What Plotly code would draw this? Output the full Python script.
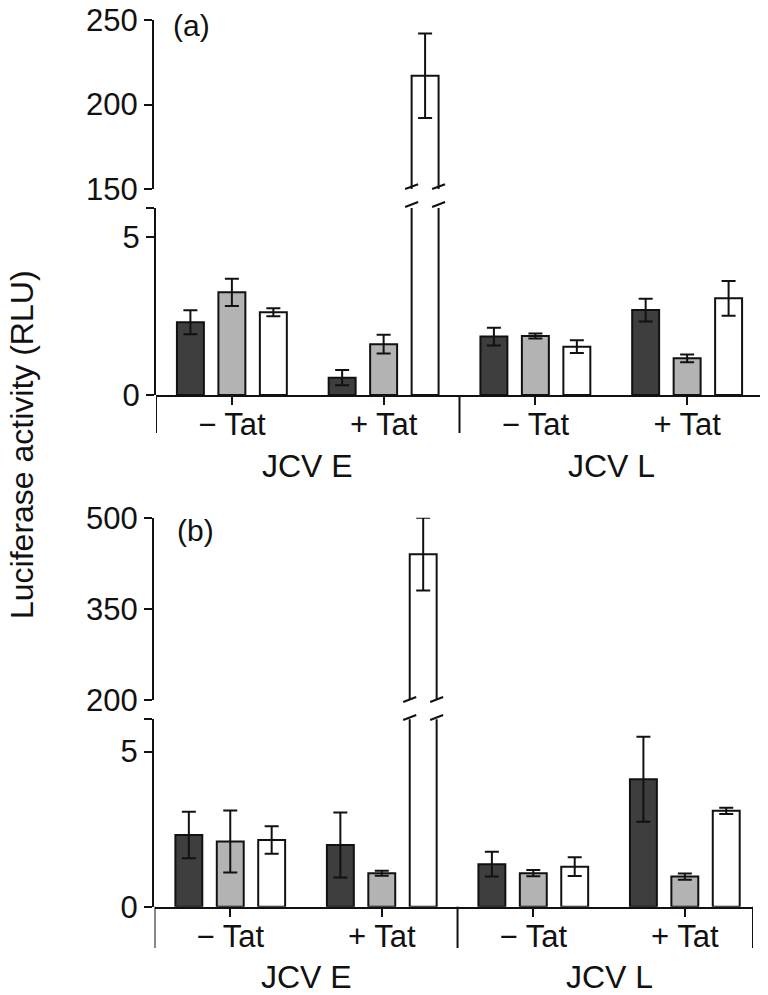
import plotly.graph_objects as go

# ---------------- data ----------------
x_pos = [0, 1, 2, 3]
tick_labels = ["\u2212 Tat", "+ Tat", "\u2212 Tat", "+ Tat"]
promoters = ["JCV E", "JCV L"]
series_names = ["Series 1", "Series 2", "Series 3"]
series_colors = ["#3e3e3e", "#b3b3b3", "#ffffff"]

# panel (a)
a_s1 = [2.30, 0.55, 1.85, 2.69]
a_s2 = [3.25, 1.61, 1.87, 1.16]
a_s3 = [2.62, 217.0, 1.53, 3.06]
a_s1_err = [0.38, 0.24, 0.28, 0.36]
a_s2_err = [0.43, 0.30, 0.08, 0.12]
a_s3_err = [0.13, 25.0, 0.20, 0.55]

# panel (b)
b_s1 = [2.31, 1.99, 1.37, 4.11]
b_s2 = [2.10, 1.08, 1.08, 0.97]
b_s3 = [2.15, 440.0, 1.29, 3.09]
b_s1_err = [0.75, 1.05, 0.40, 1.37]
b_s2_err = [1.00, 0.08, 0.10, 0.10]
b_s3_err = [0.44, 60.0, 0.30, 0.10]

a_upper_ticks = [150, 200, 250]
b_upper_ticks = [200, 350, 500]

# ---------------- layout helpers ----------------
# the page puts the figure 8px in from the top-left corner of the window
OFF = 8
W, H = 768 - OFF, 995 - OFF
FONT = "Liberation Sans, Arial, Helvetica, sans-serif"
BARGAP, GROUPGAP = 0.18, 0.35


def fx(px):
    return (px - OFF) / W


def fy(py):
    return 1 - (py - OFF) / H


fig = go.Figure()

panels = [
    dict(vals=[a_s1, a_s2, a_s3], errs=[a_s1_err, a_s2_err, a_s3_err], low=("x", "y"), up=("x2", "y2")),
    dict(vals=[b_s1, b_s2, b_s3], errs=[b_s1_err, b_s2_err, b_s3_err], low=("x3", "y3"), up=("x4", "y4")),
]

for p in panels:
    for axes in (p["low"], p["up"]):
        for name, color, v, e in zip(series_names, series_colors, p["vals"], p["errs"]):
            fig.add_trace(go.Bar(
                x=x_pos, y=v, name=name, xaxis=axes[0], yaxis=axes[1],
                marker=dict(color=color, line=dict(color="#111111", width=2)),
                error_y=dict(type="data", array=e, visible=True, thickness=2, width=7, color="#111111"),
                showlegend=False,
            ))

tickfont = dict(family=FONT, size=31, color="#111111")
common_x = dict(showline=True, linewidth=2, linecolor="#111111", ticks="outside", ticklen=8,
                tickwidth=2, tickcolor="#111111", tickvals=x_pos, ticktext=tick_labels,
                tickfont=tickfont, showgrid=False, zeroline=False, fixedrange=True,
                automargin=False, ticklabelstandoff=-7, ticklabeloverflow="allow")
common_y = dict(showline=True, linewidth=2, linecolor="#111111", ticks="outside", ticklen=8,
                tickwidth=2, tickcolor="#111111", tickfont=tickfont, showgrid=False,
                zeroline=False, anchor="free", automargin=False, ticklabeloverflow="allow")

# panel geometry (window pixels)
a_xdom = (156, 763)
a_xrange = [-0.5, 3.5]
b_xdom = (154.5, 753)
b_xrange = [-0.5, 3.45]
a_low_y = (208, 395, 5.92)
a_up_y = (20, 189)
b_low_y = (719.3, 906.7, 6.04)
b_up_y = (517.7, 700)

fig.update_layout(
    width=W, height=H, margin=dict(l=0, r=0, t=0, b=0, autoexpand=False),
    plot_bgcolor="white", paper_bgcolor="white",
    barmode="group", bargap=BARGAP, bargroupgap=GROUPGAP,
    font=dict(family=FONT, color="#111111"),
    xaxis=dict(common_x, domain=[fx(a_xdom[0]), fx(a_xdom[1])], range=a_xrange, anchor="y"),
    yaxis=dict(common_y, domain=[fy(a_low_y[1]), fy(a_low_y[0])], range=[0, a_low_y[2]],
               position=fx(155), tickvals=[0, 5, a_low_y[2]], ticktext=["0", "5", ""]),
    xaxis2=dict(domain=[fx(a_xdom[0]), fx(a_xdom[1])], range=a_xrange, anchor="y2", visible=False,
                automargin=False),
    yaxis2=dict(common_y, domain=[fy(a_up_y[1]), fy(a_up_y[0])], range=[a_upper_ticks[0], a_upper_ticks[-1]],
                position=fx(153), tickvals=a_upper_ticks),
    xaxis3=dict(common_x, domain=[fx(b_xdom[0]), fx(b_xdom[1])], range=b_xrange, anchor="y3"),
    yaxis3=dict(common_y, domain=[fy(b_low_y[1]), fy(b_low_y[0])], range=[0, b_low_y[2]],
                position=fx(153), tickvals=[0, 5, b_low_y[2]], ticktext=["0", "5", ""]),
    xaxis4=dict(domain=[fx(b_xdom[0]), fx(b_xdom[1])], range=b_xrange, anchor="y4", visible=False,
                automargin=False),
    yaxis4=dict(common_y, domain=[fy(b_up_y[1]), fy(b_up_y[0])], range=[b_upper_ticks[0], b_upper_ticks[-1]],
                position=fx(153), tickvals=b_upper_ticks),
)

shapes = []
annotations = []
line_style = dict(color="#111111", width=2)

# dividers under the x axes
for xref, xrange, axis_y, bottom in (("x", a_xrange, 395, 433), ("x3", b_xrange, 906.7, 948)):
    for xv in (xrange[0], 1.5, xrange[1]):
        shapes.append(dict(type="line", xref=xref, yref="paper", x0=xv, x1=xv,
                           y0=fy(axis_y), y1=fy(bottom), line=line_style))

# break marks on the tall bar (group 1, series 3)
slot = (1 - BARGAP) / 3
bw = slot * (1 - GROUPGAP)
centre = 1 + slot
for xref, xdom, xrange, marks in (
    ("x", a_xdom, a_xrange, [(189, 184.3), (207, 202)]),
    ("x3", b_xdom, b_xrange, [(702, 697), (720, 715)]),
):
    px_per_unit = (xdom[1] - xdom[0]) / (xrange[1] - xrange[0])
    dx = 6.5 / px_per_unit
    for edge in (centre - bw / 2, centre + bw / 2):
        for ylow, yhigh in marks:
            shapes.append(dict(type="line", xref=xref, yref="paper", x0=edge - dx, x1=edge + dx,
                               y0=fy(ylow), y1=fy(yhigh), line=line_style))

# promoter labels
for xref, ypx in (("x", 465.5), ("x3", 976.5)):
    for i, name in enumerate(promoters):
        annotations.append(dict(text=name, xref=xref, yref="paper", x=0.5 + 2 * i, y=fy(ypx),
                                showarrow=False, xanchor="center", yanchor="middle", borderpad=0,
                                font=dict(family=FONT, size=32, color="#111111")))

# panel letters
annotations.append(dict(text="(a)", xref="paper", yref="paper", x=fx(191.5), y=fy(26),
                        showarrow=False, xanchor="center", yanchor="middle", borderpad=0,
                        font=dict(family=FONT, size=30, color="#111111")))
annotations.append(dict(text="(b)", xref="paper", yref="paper", x=fx(195), y=fy(530),
                        showarrow=False, xanchor="center", yanchor="middle", borderpad=0,
                        font=dict(family=FONT, size=30, color="#111111")))

# y-axis title
annotations.append(dict(text="Luciferase activity (RLU)", xref="paper", yref="paper",
                        x=fx(22), y=fy(445), textangle=-90, showarrow=False,
                        xanchor="center", yanchor="middle", borderpad=0,
                        font=dict(family=FONT, size=32, color="#111111")))

fig.update_layout(shapes=shapes, annotations=annotations)
fig.write_html("out.html")
